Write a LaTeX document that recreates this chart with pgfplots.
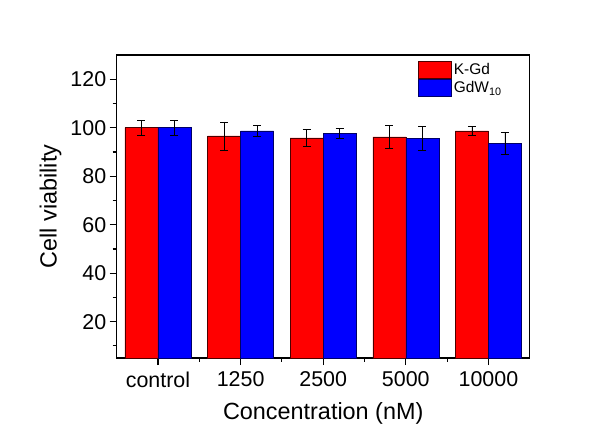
\documentclass[border=0pt]{standalone}
\usepackage{pgfplots}
\pgfplotsset{compat=1.18}
\usepackage{fontspec}
\setmainfont{Liberation Sans}
\begin{document}
\begin{tikzpicture}
\begin{axis}[
  scale only axis,
  width=413bp, height=303bp,
  xmin=-0.5, xmax=4.5,
  ymin=5, ymax=130,
  ybar=0pt, bar width=33bp,
  xtick={0,1,2,3,4},
  xticklabels={control,1250,2500,5000,10000},
  minor xtick={0.5,1.5,2.5,3.5},
  ytick={20,40,60,80,100,120},
  minor ytick={10,30,50,70,90,110},
  tick align=outside,
  major tick length=7bp,
  minor tick length=4bp,
  tick style={black, line width=1.2pt},
  axis line style={line width=1.5pt},
  xtick pos=bottom, ytick pos=left,
  /pgf/number format/assume math mode=true,
  tick label style={font=\fontsize{21.5}{24}\selectfont},
  xticklabel style={yshift=-3bp},
  label style={font=\fontsize{23.5}{26}\selectfont},
  xlabel={Concentration (nM)},
  ylabel={Cell viability},
  xlabel style={yshift=-8bp},
  ylabel style={yshift=2bp},
  legend style={draw=none, fill=none, at={(0.73,0.98)}, anchor=north west,
    font=\fontsize{15.5}{17}\selectfont, row sep=1bp, inner sep=0pt,
    nodes={inner sep=2bp}},
  legend cell align=left,
  area legend,
  legend image code/.code={\draw[#1, line width=0.5pt] (0bp,-8.3bp) rectangle (33bp,8.3bp);},
  clip=false,
]
\addplot[fill=red, draw=black!70!red, line width=0.5pt,
  error bars/.cd, y dir=both, y explicit, error bar style={black, line width=0.6pt}, error mark options={rotate=90, mark size=4bp, line width=0.6pt}]
  coordinates {(0,100) +- (0,3.1) (1,96.6) +- (0,5.8) (2,95.8) +- (0,3.6) (3,96.2) +- (0,4.8) (4,98.7) +- (0,2.0)};
\addplot[fill=blue, draw=black!60!blue, line width=0.5pt,
  error bars/.cd, y dir=both, y explicit, error bar style={black, line width=0.6pt}, error mark options={rotate=90, mark size=4bp, line width=0.6pt}]
  coordinates {(0,100) +- (0,3.0) (1,98.7) +- (0,2.4) (2,97.6) +- (0,2.1) (3,95.5) +- (0,5.0) (4,93.6) +- (0,4.7)};
\legend{K-Gd, GdW$_{\mathrm{10}}$}
\end{axis}
\path (current axis.south west) ++(-116.7bp,-63bp) rectangle ++(602bp,421bp);
\end{tikzpicture}
\end{document}
